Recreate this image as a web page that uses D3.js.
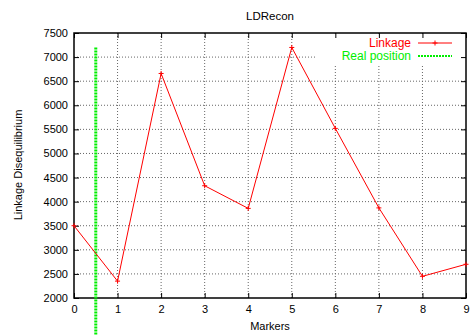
<!DOCTYPE html>
<html>
<head>
<meta charset="utf-8">
<script src="https://cdn.jsdelivr.net/npm/d3@7"></script>
<style>
  body { margin: 0; background: #fff; }
  svg text { font-family: "Liberation Sans", Arial, sans-serif; font-size: 11px; fill: #000; }
</style>
</head>
<body>
<div id="chart"></div>
<script>
// chart data
const markers = [0, 1, 2, 3, 4, 5, 6, 7, 8, 9];
const linkage = [3500, 2350, 6660, 4330, 3860, 7200, 5520, 3870, 2450, 2700];
const realPosX = 0.5;
const realPosY = [1200, 7200];
const yTicks = [2000, 2500, 3000, 3500, 4000, 4500, 5000, 5500, 6000, 6500, 7000, 7500];

const WIDTH = 472, HEIGHT = 335;
const MARGIN = { left: 74, right: 6, top: 33, bottom: 37 };
const INNER_W = WIDTH - MARGIN.left - MARGIN.right;
const INNER_H = HEIGHT - MARGIN.top - MARGIN.bottom;

const svg = d3.select("#chart").append("svg")
  .attr("width", WIDTH).attr("height", HEIGHT);

const g = svg.append("g").attr("transform", `translate(${MARGIN.left},${MARGIN.top})`);

const x = d3.scaleLinear().domain([0, 9]).range([0, INNER_W]);
const y = d3.scaleLinear().domain([2000, 7500]).range([INNER_H, 0]);

// grid
const grid = g.append("g");
grid.selectAll(".gx").data(markers.slice(1, -1)).join("line")
  .attr("x1", d => x(d)).attr("x2", d => x(d))
  .attr("y1", 0).attr("y2", INNER_H)
  .attr("stroke", "#666").attr("stroke-width", 1).attr("stroke-dasharray", "1,2");
grid.selectAll(".gy").data(yTicks.slice(1, -1)).join("line")
  .attr("x1", 0).attr("x2", INNER_W)
  .attr("y1", d => y(d)).attr("y2", d => y(d))
  .attr("stroke", "#666").attr("stroke-width", 1).attr("stroke-dasharray", "1,2");

// legend background covers the grid
g.append("rect").attr("x", 242).attr("y", 1).attr("width", INNER_W - 243).attr("height", 30).attr("fill", "#fff");

// axes with inward ticks on all sides
const xAxis = g.append("g").attr("transform", `translate(0,${INNER_H})`)
  .call(d3.axisBottom(x).tickValues(markers).tickSize(-5).tickPadding(7).tickFormat(d3.format("d")));
const xTop = g.append("g").call(d3.axisTop(x).tickValues(markers).tickSize(-5).tickFormat(""));
const yAxis = g.append("g")
  .call(d3.axisLeft(y).tickValues(yTicks).tickSize(-5).tickPadding(6).tickFormat(d3.format("d")));
const yRight = g.append("g").attr("transform", `translate(${INNER_W},0)`)
  .call(d3.axisRight(y).tickValues(yTicks).tickSize(-5).tickFormat(""));

[xAxis, xTop, yAxis, yRight].forEach(a => {
  a.selectAll(".domain").remove();
  a.selectAll("text").style("font-size", "11px").attr("fill", "#000");
  a.selectAll("line").attr("stroke", "#000");
});

g.append("rect").attr("x", 0).attr("y", 0).attr("width", INNER_W).attr("height", INNER_H)
  .attr("fill", "none").attr("stroke", "#000").attr("stroke-width", 1.5);

// real position line
g.append("line")
  .attr("x1", x(realPosX)).attr("x2", x(realPosX))
  .attr("y1", y(realPosY[1])).attr("y2", y(realPosY[0]))
  .attr("stroke", "#00ee00").attr("stroke-width", 3).attr("stroke-dasharray", "2,1");

// linkage line
const line = d3.line().x((d, i) => x(markers[i])).y(d => y(d));
g.append("path").datum(linkage).attr("d", line)
  .attr("fill", "none").attr("stroke", "#ff0000").attr("stroke-width", 1);

g.selectAll(".pt").data(linkage).join("path")
  .attr("transform", (d, i) => `translate(${x(markers[i])},${y(d)})`)
  .attr("d", "M-2.5,0H2.5M0,-2.5V2.5")
  .attr("stroke", "#ff0000").attr("stroke-width", 1);

// legend
const leg = g.append("g");
leg.append("text").attr("x", 337).attr("y", 14).attr("text-anchor", "end")
  .style("font-size", "12px").style("fill", "#ff0000").text("Linkage");
leg.append("line").attr("x1", 344).attr("x2", 378).attr("y1", 10).attr("y2", 10)
  .attr("stroke", "#ff0000").attr("stroke-width", 1);
leg.append("path").attr("transform", "translate(361,10)").attr("d", "M-2.5,0H2.5M0,-2.5V2.5")
  .attr("stroke", "#ff0000");
leg.append("text").attr("x", 337).attr("y", 27).attr("text-anchor", "end")
  .style("font-size", "12px").style("fill", "#00ee00").text("Real position");
leg.append("line").attr("x1", 344).attr("x2", 378).attr("y1", 23).attr("y2", 23)
  .attr("stroke", "#00ee00").attr("stroke-width", 2).attr("stroke-dasharray", "2,1");

// titles
svg.append("text").attr("x", 270).attr("y", 20).attr("text-anchor", "middle")
  .style("font-size", "11.5px").text("LDRecon");
svg.append("text").attr("x", 270).attr("y", 330).attr("text-anchor", "middle").text("Markers");
svg.append("text").attr("transform", "translate(22,165) rotate(-90)").attr("text-anchor", "middle")
  .text("Linkage Disequilibrium");
</script>
</body>
</html>
